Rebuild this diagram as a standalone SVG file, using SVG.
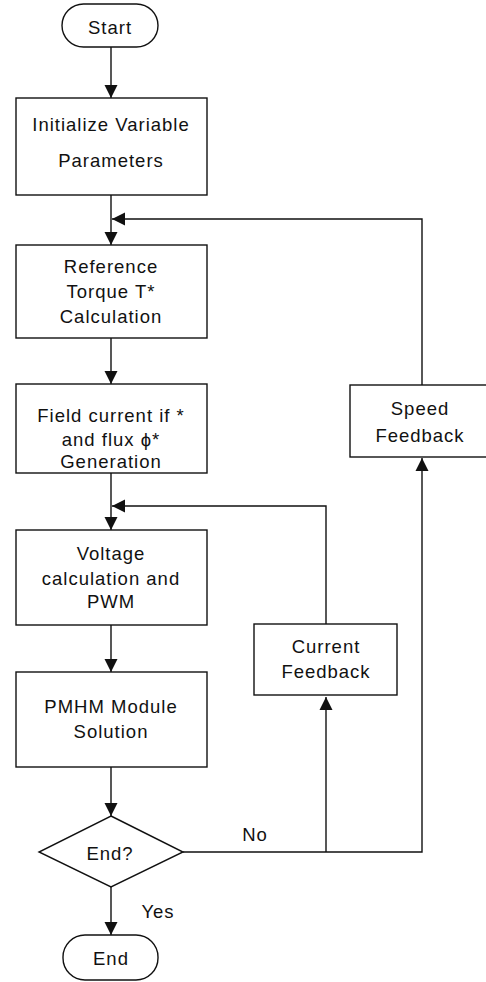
<svg xmlns="http://www.w3.org/2000/svg" width="486" height="982" viewBox="0 0 486 982">
<defs>
<marker id="ah" markerWidth="14" markerHeight="14" refX="13" refY="7" orient="auto" markerUnits="userSpaceOnUse">
<path d="M0,0.5 L13,7 L0,13.5 Z" fill="#111"/>
</marker>
</defs>
<style>
.box{fill:#fff;stroke:#111;stroke-width:1.4}
.ln{fill:none;stroke:#111;stroke-width:1.4}
text{font-family:"Liberation Sans",Arial,sans-serif;font-size:18.5px;letter-spacing:1px;fill:#111;text-anchor:middle}
</style>
<rect width="486" height="982" fill="#fff"/>
<g id="connectors">
<line class="ln" x1="111" y1="47" x2="111" y2="98" marker-end="url(#ah)"/>
<line class="ln" x1="111" y1="195" x2="111" y2="245" marker-end="url(#ah)"/>
<line class="ln" x1="111" y1="338" x2="111" y2="384" marker-end="url(#ah)"/>
<line class="ln" x1="111" y1="473" x2="111" y2="530" marker-end="url(#ah)"/>
<line class="ln" x1="111" y1="625" x2="111" y2="672" marker-end="url(#ah)"/>
<line class="ln" x1="111" y1="767" x2="111" y2="816" marker-end="url(#ah)"/>
<line class="ln" x1="111" y1="887" x2="111" y2="935" marker-end="url(#ah)"/>
<polyline class="ln" points="183,852 422,852 422,458" marker-end="url(#ah)"/>
<line class="ln" x1="326" y1="852" x2="326" y2="697" marker-end="url(#ah)"/>
<polyline class="ln" points="422,385 422,219 112,219" marker-end="url(#ah)"/>
<polyline class="ln" points="326,624 326,506 112,506" marker-end="url(#ah)"/>
<text x="255" y="841">No</text>
<text x="158" y="918">Yes</text>
</g>
<g id="start">
<rect class="box" x="62" y="4" width="96" height="43" rx="21.5"/>
<text x="110" y="34">Start</text>
</g>
<g id="init">
<rect class="box" x="16" y="98" width="191" height="97"/>
<text x="111" y="131">Initialize Variable</text>
<text x="111" y="167">Parameters</text>
</g>
<g id="torque">
<rect class="box" x="16" y="245" width="191" height="93"/>
<text x="111" y="273">Reference</text>
<text x="111" y="298">Torque T*</text>
<text x="111" y="323">Calculation</text>
</g>
<g id="field">
<rect class="box" x="16" y="384" width="191" height="89"/>
<text x="111" y="422">Field current if *</text>
<text x="111" y="446">and flux ϕ*</text>
<text x="111" y="468">Generation</text>
</g>
<g id="voltage">
<rect class="box" x="16" y="530" width="191" height="95"/>
<text x="111" y="560">Voltage</text>
<text x="111" y="585">calculation and</text>
<text x="111" y="608">PWM</text>
</g>
<g id="pmhm">
<rect class="box" x="16" y="672" width="191" height="95"/>
<text x="111" y="713">PMHM Module</text>
<text x="111" y="738">Solution</text>
</g>
<g id="decision">
<polygon class="box" points="111,816 183,852 111,887 39,852"/>
<text x="110" y="860">End?</text>
</g>
<g id="end">
<rect class="box" x="63" y="935" width="95" height="45" rx="22"/>
<text x="111" y="965">End</text>
</g>
<g id="current">
<rect class="box" x="254" y="624" width="143" height="71"/>
<text x="326" y="653">Current</text>
<text x="326" y="678">Feedback</text>
</g>
<g id="speed">
<rect class="box" x="350" y="385" width="144" height="72"/>
<text x="420" y="415">Speed</text>
<text x="420" y="442">Feedback</text>
</g>
</svg>
